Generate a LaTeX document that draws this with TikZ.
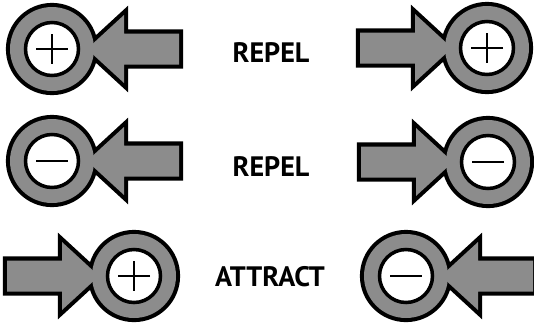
\documentclass[tikz,border=0pt]{standalone}
\usepackage{fontspec}
\setmainfont{PT Sans}

\begin{document}
\begin{tikzpicture}[
    x=0.03cm, y=-0.03cm,
    rim/.style={draw=black, line width=7pt, fill=black!45},
    body/.style={fill=black!45},
    hole/.style={draw=black, line width=3pt, fill=white},
    sign/.style={line width=2.4pt},
    word/.style={font=\bfseries\fontsize{24}{28}\selectfont}
]

\useasboundingbox (0,0) rectangle (534,324);

% -------------------------
% Charges with their push/pull arrows
% centre x / centre y / arrow side / plus(1) or minus(0)
% -------------------------
\foreach \cx/\cy/\dir/\kind in {52/49/1/1, 487/48/-1/1,
                               52/161/1/0, 488/162/-1/0,
                               134/276/-1/1, 406/276/1/0} {
  \begin{scope}[shift={(\cx,\cy)}, xscale=\dir]
    % outline of ring and arrow
    \draw[rim] (0,0) circle (42);
    \draw[rim] (35,0) -- (72,-34) -- (72,-15.5) -- (127,-15.5)
        -- (127,15.5) -- (72,15.5) -- (72,34) -- cycle;
    % fill again so both read as one shape
    \fill[body] (0,0) circle (42);
    \fill[body] (35,0) -- (72,-34) -- (72,-15.5) -- (127,-15.5)
        -- (127,15.5) -- (72,15.5) -- (72,34) -- cycle;
    % centre with the sign
    \draw[hole] (0,0) circle (26.5);
    \draw[sign] (-16,0) -- (16,0);
    \ifnum\kind=1 \draw[sign] (0,-15) -- (0,15); \fi
  \end{scope}
}

% -------------------------
% Labels
% -------------------------
\node[word] (repelTop) at (271,53) {REPEL};
\node[word] (repelMid) at (271,167) {REPEL};
\node[word] (attract) at (270,277) {ATTRACT};

\end{tikzpicture}
\end{document}
